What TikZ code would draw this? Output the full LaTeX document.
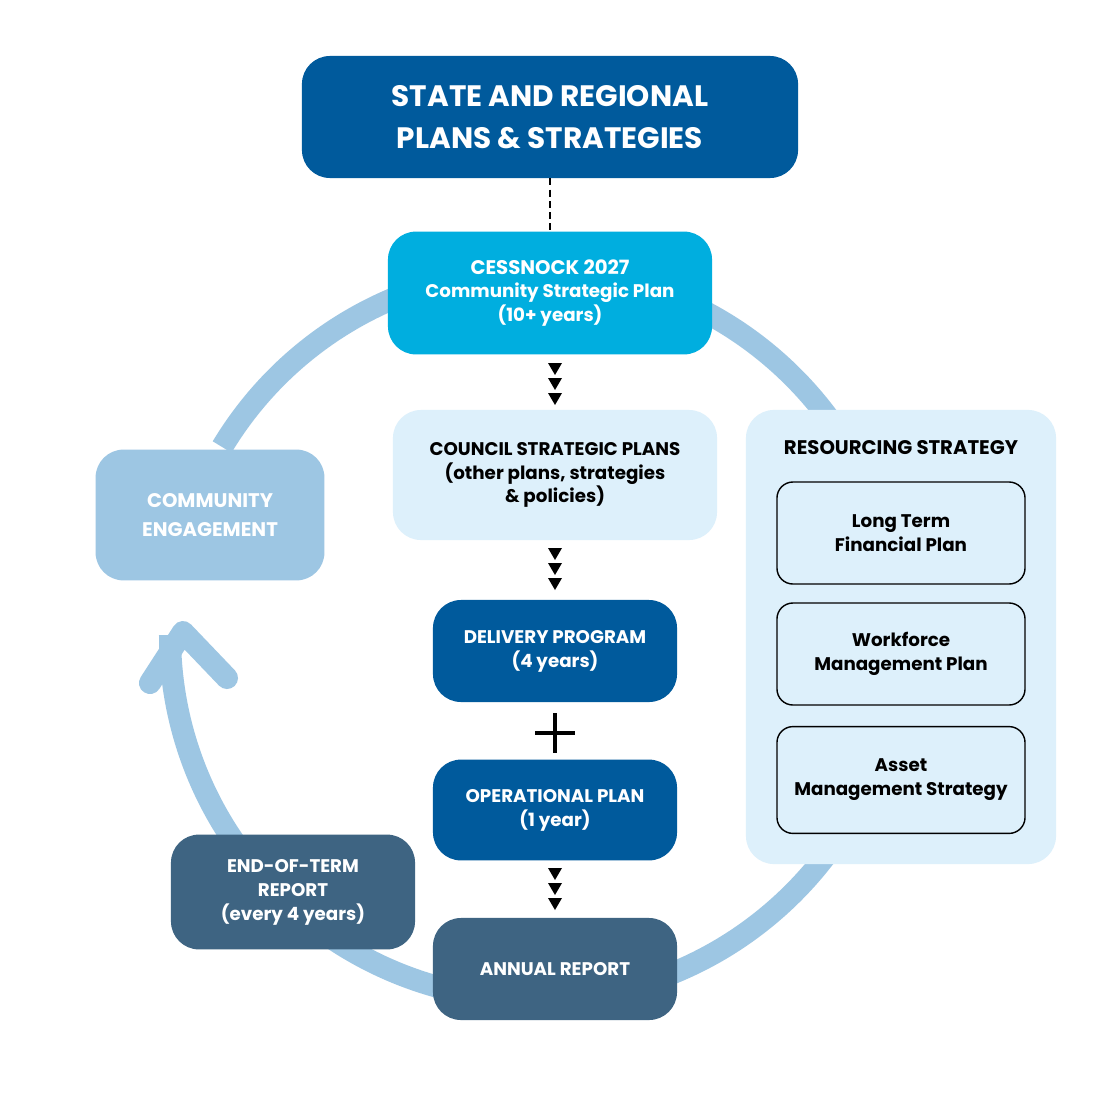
\documentclass[tikz,border=0pt]{standalone}
\usepackage{fontspec}
\setmainfont{Poppins}
\usetikzlibrary{positioning}
\definecolor{dblue}{HTML}{005A9C}
\definecolor{cyanb}{HTML}{00AEDF}
\definecolor{lightb}{HTML}{DDF0FB}
\definecolor{arcb}{HTML}{9DC6E3}
\definecolor{slate}{HTML}{3E6482}
\begin{document}
\begin{tikzpicture}[x=0.025cm,y=-0.025cm,
  box/.style={rounded corners=0.7cm,align=center,inner sep=0pt,font=\bfseries\fontsize{13}{17}\selectfont},
  dark/.style={box,fill=dblue,text=white},
  slatebox/.style={box,fill=slate,text=white},
  lightbox/.style={box,fill=lightb,text=black},
  sub/.style={rounded corners=0.4cm,draw=black,line width=1pt,fill=lightb,align=center,font=\bfseries\fontsize{13}{17}\selectfont,minimum width=6.2cm,minimum height=2.55cm},
  tri/.style={fill=black}]
\useasboundingbox (0,0) rectangle (1100,1100);
\fill[white] (0,0) rectangle (1100,1100);
% cycle arc
\draw[arcb,line width=0.55cm] (535,635) ++(180:365) arc[start angle=180,end angle=-149,radius=365];
\draw[arcb,line width=0.55cm,line cap=round,line join=round] (150,683) -- (183,632) -- (227,678);
% nodes
\node[dark,minimum width=12.4cm,minimum height=3.05cm,font=\bfseries\fontsize{21}{30}\selectfont] (state) at (550,117) {STATE AND REGIONAL\\PLANS \& STRATEGIES};
\node[box,fill=cyanb,text=white,minimum width=8.1cm,minimum height=3.07cm] (csp) at (550,293) {{\fontsize{14}{18}\selectfont CESSNOCK 2027}\\Community Strategic Plan\\(10+ years)};
\node[lightbox,minimum width=8.1cm,minimum height=3.25cm] (csp2) at (555,475) {COUNCIL STRATEGIC PLANS\\(other plans, strategies\\\& policies)};
\node[dark,minimum width=6.1cm,minimum height=2.55cm] (dp) at (555,651) {DELIVERY PROGRAM\\(4 years)};
\node[dark,minimum width=6.1cm,minimum height=2.52cm] (op) at (555,810) {OPERATIONAL PLAN\\(1 year)};
\node[slatebox,minimum width=6.1cm,minimum height=2.55cm] (ar) at (555,969) {ANNUAL REPORT};
\node[slatebox,minimum width=6.1cm,minimum height=2.87cm] (eot) at (293,892) {END-OF-TERM\\REPORT\\(every 4 years)};
\node[box,fill=arcb,text=white,minimum width=5.72cm,minimum height=3.27cm,font=\bfseries\fontsize{14}{21}\selectfont] (ce) at (210,515) {COMMUNITY\\ENGAGEMENT};
\node[box,fill=lightb,minimum width=7.75cm,minimum height=11.35cm] (rs) at (901,637) {};
\node[font=\bfseries\fontsize{14}{18}\selectfont] (rst) at (901,448) {RESOURCING STRATEGY};
\node[sub] (ltfp) at (901,533) {Long Term\\Financial Plan};
\node[sub] (wmp) at (901,654) {Workforce\\Management Plan};
\node[sub,minimum height=2.67cm] (ams) at (901,780) {Asset\\Management Strategy};
% connectors
\draw[black,line width=2pt,dash pattern=on 5pt off 3pt] (state.south) -- (csp.north);
\foreach \a/\y in {csp/363,csp2/548,op/868}{
  \foreach \k in {0,1,2}{
    \fill[black] (548,\y+\k*15) -- (562,\y+\k*15) -- (555,\y+\k*15+12) -- cycle;
  }
}
\node[inner sep=0pt,font=\fontsize{40}{40}\selectfont] (plus) at (555,733) {};
\draw[black,line width=3pt] (535,733) -- (575,733) (555,713) -- (555,753);
\end{tikzpicture}
\end{document}
